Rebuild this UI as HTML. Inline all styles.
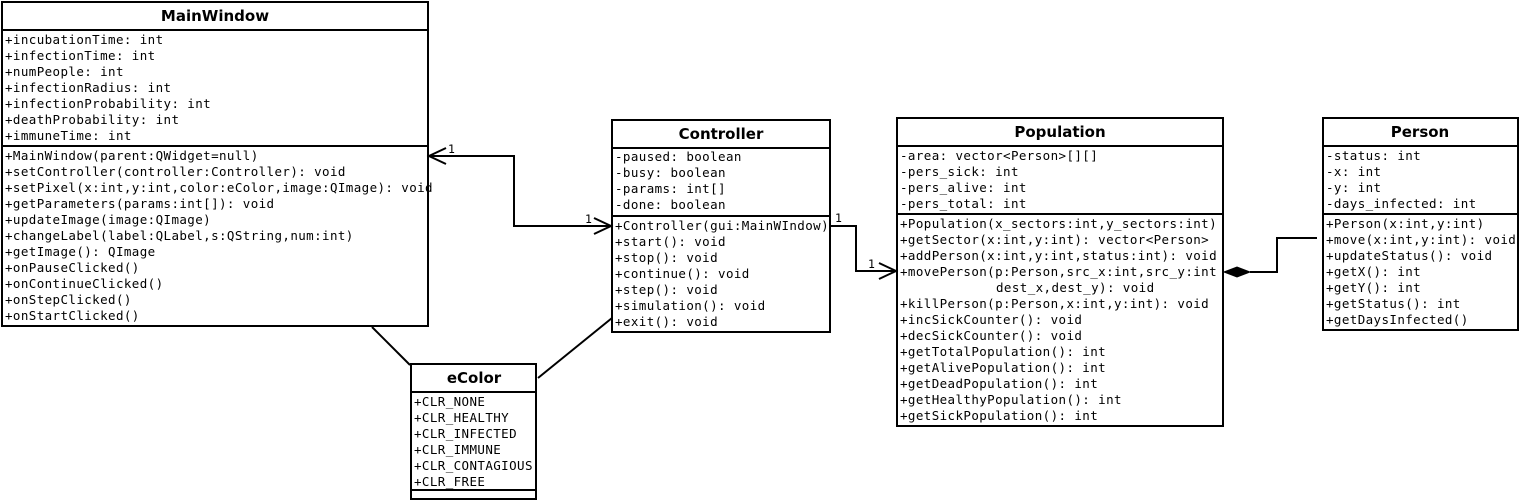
<!DOCTYPE html>
<html><head><meta charset="utf-8"><style>
html,body{margin:0;padding:0;background:#fff;}
svg{display:block;}
.t{font-family:"DejaVu Sans Mono","Liberation Mono",monospace;font-size:12.5px;letter-spacing:0.4px;fill:#000;}
.h{font-family:"DejaVu Sans","Liberation Sans",sans-serif;font-size:15px;font-weight:bold;fill:#000;text-anchor:middle;}
.n{font-family:"DejaVu Sans Mono","Liberation Mono",monospace;font-size:11.5px;fill:#000;}
rect,line,polyline{stroke:#000;stroke-width:2;fill:none;}
</style></head><body>
<svg width="1519" height="502" viewBox="0 0 1519 502" xmlns="http://www.w3.org/2000/svg">
<!-- MainWindow -->
<rect x="2" y="2" width="426" height="324"/>
<line x1="2" y1="30" x2="428" y2="30"/>
<line x1="2" y1="146" x2="428" y2="146"/>
<text class="h" x="215" y="21">MainWindow</text>
<g class="t">
<text x="5" y="44">+incubationTime: int</text>
<text x="5" y="60">+infectionTime: int</text>
<text x="5" y="76">+numPeople: int</text>
<text x="5" y="92">+infectionRadius: int</text>
<text x="5" y="108">+infectionProbability: int</text>
<text x="5" y="124">+deathProbability: int</text>
<text x="5" y="140">+immuneTime: int</text>
<text x="5" y="160">+MainWindow(parent:QWidget=null)</text>
<text x="5" y="176">+setController(controller:Controller): void</text>
<text x="5" y="192">+setPixel(x:int,y:int,color:eColor,image:QImage): void</text>
<text x="5" y="208">+getParameters(params:int[]): void</text>
<text x="5" y="224">+updateImage(image:QImage)</text>
<text x="5" y="240">+changeLabel(label:QLabel,s:QString,num:int)</text>
<text x="5" y="256">+getImage(): QImage</text>
<text x="5" y="272">+onPauseClicked()</text>
<text x="5" y="288">+onContinueClicked()</text>
<text x="5" y="304">+onStepClicked()</text>
<text x="5" y="320">+onStartClicked()</text>
</g>
<!-- Controller -->
<rect x="612" y="120" width="218" height="212"/>
<line x1="612" y1="148" x2="830" y2="148"/>
<line x1="612" y1="216" x2="830" y2="216"/>
<text class="h" x="721" y="139">Controller</text>
<g class="t">
<text x="615" y="161">-paused: boolean</text>
<text x="615" y="177">-busy: boolean</text>
<text x="615" y="193">-params: int[]</text>
<text x="615" y="209">-done: boolean</text>
<text x="615" y="230">+Controller(gui:MainWIndow)</text>
<text x="615" y="246">+start(): void</text>
<text x="615" y="262">+stop(): void</text>
<text x="615" y="278">+continue(): void</text>
<text x="615" y="294">+step(): void</text>
<text x="615" y="310">+simulation(): void</text>
<text x="615" y="326">+exit(): void</text>
</g>
<!-- Population -->
<rect x="897" y="118" width="326" height="308"/>
<line x1="897" y1="146" x2="1223" y2="146"/>
<line x1="897" y1="214" x2="1223" y2="214"/>
<text class="h" x="1060" y="137">Population</text>
<g class="t">
<text x="900" y="160">-area: vector&lt;Person&gt;[][]</text>
<text x="900" y="176">-pers_sick: int</text>
<text x="900" y="192">-pers_alive: int</text>
<text x="900" y="208">-pers_total: int</text>
<text x="900" y="228">+Population(x_sectors:int,y_sectors:int)</text>
<text x="900" y="244">+getSector(x:int,y:int): vector&lt;Person&gt;</text>
<text x="900" y="260">+addPerson(x:int,y:int,status:int): void</text>
<text x="900" y="276">+movePerson(p:Person,src_x:int,src_y:int</text>
<text x="996" y="292">dest_x,dest_y): void</text>
<text x="900" y="308">+killPerson(p:Person,x:int,y:int): void</text>
<text x="900" y="324">+incSickCounter(): void</text>
<text x="900" y="340">+decSickCounter(): void</text>
<text x="900" y="356">+getTotalPopulation(): int</text>
<text x="900" y="372">+getAlivePopulation(): int</text>
<text x="900" y="388">+getDeadPopulation(): int</text>
<text x="900" y="404">+getHealthyPopulation(): int</text>
<text x="900" y="420">+getSickPopulation(): int</text>
</g>
<!-- Person -->
<rect x="1323" y="118" width="195" height="212"/>
<line x1="1323" y1="146" x2="1518" y2="146"/>
<line x1="1323" y1="214" x2="1518" y2="214"/>
<text class="h" x="1420" y="137">Person</text>
<g class="t">
<text x="1326" y="160">-status: int</text>
<text x="1326" y="176">-x: int</text>
<text x="1326" y="192">-y: int</text>
<text x="1326" y="208">-days_infected: int</text>
<text x="1326" y="228">+Person(x:int,y:int)</text>
<text x="1326" y="244">+move(x:int,y:int): void</text>
<text x="1326" y="260">+updateStatus(): void</text>
<text x="1326" y="276">+getX(): int</text>
<text x="1326" y="292">+getY(): int</text>
<text x="1326" y="308">+getStatus(): int</text>
<text x="1326" y="324">+getDaysInfected()</text>
</g>
<!-- eColor -->
<rect x="411" y="364" width="125" height="135"/>
<line x1="411" y1="392" x2="536" y2="392"/>
<line x1="411" y1="490" x2="536" y2="490"/>
<text class="h" x="474" y="383">eColor</text>
<g class="t">
<text x="414" y="406">+CLR_NONE</text>
<text x="414" y="422">+CLR_HEALTHY</text>
<text x="414" y="438">+CLR_INFECTED</text>
<text x="414" y="454">+CLR_IMMUNE</text>
<text x="414" y="470">+CLR_CONTAGIOUS</text>
<text x="414" y="486">+CLR_FREE</text>
</g>
<!-- connectors -->
<polyline points="429,156 514,156 514,226 611,226"/>
<polyline points="446,148 429,156 446,164"/>
<polyline points="594,218 611,226 594,234"/>
<text class="n" x="448" y="153">1</text>
<text class="n" x="585" y="223">1</text>
<polyline points="831,226 856,226 856,271 896,271"/>
<polyline points="879,263 896,271 879,279"/>
<text class="n" x="835" y="222">1</text>
<text class="n" x="868" y="268">1</text>
<polygon points="1224,272 1237,267 1250,272 1237,277" fill="#000" stroke="#000" stroke-width="1"/>
<polyline points="1250,272 1277,272 1277,238 1317,238"/>
<line x1="372" y1="327" x2="410" y2="365"/>
<line x1="612" y1="318" x2="538" y2="378"/>
</svg>
</body></html>
